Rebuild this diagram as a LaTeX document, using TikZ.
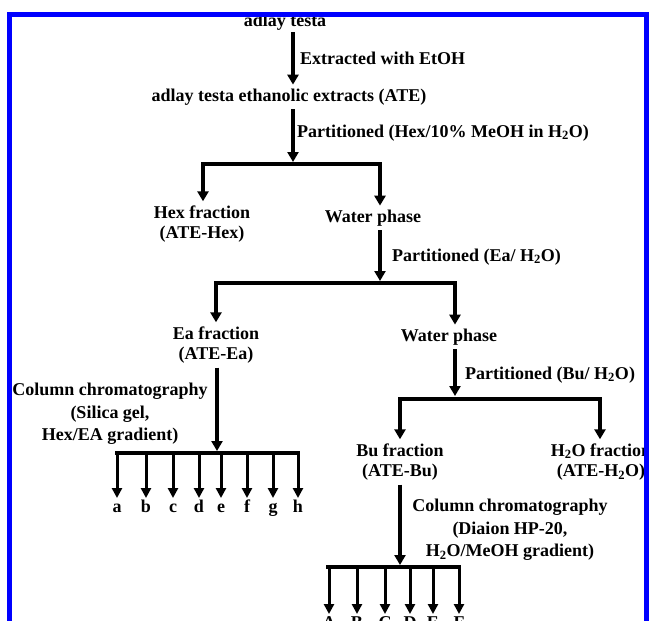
\documentclass[tikz,border=0pt]{standalone}
\usepackage{fontspec}
\setmainfont{Liberation Serif}
\usetikzlibrary{arrows.meta}
\begin{document}
\begin{tikzpicture}[x=1pt,y=-1pt,
  txt/.style={font=\fontsize{18}{20.5}\selectfont\bfseries, inner xsep=1pt, inner ysep=4pt, align=center},
  lbl/.style={txt, anchor=west},
  col/.style={txt, font=\fontsize{18}{22.5}\selectfont\bfseries},
  letter/.style={txt, text height=12.5pt, text depth=4pt, inner ysep=2pt, anchor=north},
  arr/.style={line width=3.5pt, -{Triangle[width=11pt,length=10pt]}},
  farr/.style={line width=3pt, -{Triangle[width=10pt,length=10pt]}},
  bar/.style={line width=4pt, line cap=rect},
  frame/.style={draw=blue, line width=5pt}
]
\useasboundingbox (0,0) rectangle (649,621);
\clip (0,0) rectangle (649,621);

% main chain
\node[txt] (top) at (285,22) {adlay testa};
\node[txt] (ate) at (289,97) {adlay testa ethanolic extracts (ATE)};
\node[lbl] (l1) at (299,58) {Extracted with EtOH};
\coordinate (j0) at (293,32);
\draw[arr] (j0) -- (j0 |- ate.north);

\coordinate (j1) at (293,162);
\node[lbl] (l2) at (296,133) {Partitioned (Hex/10\% MeOH in H\textsubscript{2}O)};
\draw[arr] (ate.south -| j1) -- (j1);

\coordinate (b1l) at (203,164);
\coordinate (b1r) at (380,164);
\node[txt] (hex) at (202,224) {Hex fraction\\(ATE-Hex)};
\node[txt] (wp1) at (373,218) {Water phase};
\draw[bar] (b1l) -- (b1r);
\draw[arr] (b1l) -- (b1l |- hex.north);
\draw[arr] (b1r) -- (b1r |- wp1.north);

\coordinate (j2) at (380,281);
\node[lbl] (l3) at (391,257) {Partitioned (Ea/ H\textsubscript{2}O)};
\draw[arr] (wp1.south -| j2) -- (j2);

\coordinate (b2l) at (216,283);
\coordinate (b2r) at (455,283);
\node[txt] (ea) at (216,345) {Ea fraction\\(ATE-Ea)};
\node[txt] (wp2) at (449,337) {Water phase};
\draw[bar] (b2l) -- (b2r);
\draw[arr] (b2l) -- (b2l |- ea.north);
\draw[arr] (b2r) -- (b2r |- wp2.north);

\coordinate (j3) at (455,396);
\node[lbl] (l4) at (464,375) {Partitioned (Bu/ H\textsubscript{2}O)};
\draw[arr] (wp2.south -| j3) -- (j3);

\coordinate (b3l) at (400,399);
\coordinate (b3r) at (600,399);
\node[txt] (bu) at (400,462) {Bu fraction\\(ATE-Bu)};
\node[txt] (hwo) at (601,462) {H\textsubscript{2}O fraction\\(ATE-H\textsubscript{2}O)};
\draw[bar] (b3l) -- (b3r);
\draw[arr] (b3l) -- (b3l |- bu.north);
\draw[arr] (b3r) -- (b3r |- hwo.north);

% Ea column
\coordinate (j4) at (217,451);
\node[col] (c1) at (110,414) {Column chromatography\\(Silica gel,\\Hex/EA gradient)};
\draw[arr] (ea.south -| j4) -- (j4);
\coordinate (b4l) at (117,453);
\coordinate (b4r) at (298,453);
\draw[bar] (b4l) -- (b4r);
\foreach \x/\t in {117/a,146/b,173/c,199/d,221/e,247/f,273/g,298/h}{
  \node[letter] (f\t) at (\x,498) {\t};
  \draw[farr] (\x,453) -- (f\t.north);
}

% Bu column
\coordinate (j5) at (400,565);
\node[col] (c2) at (510,530) {Column chromatography\\(Diaion HP-20,\\H\textsubscript{2}O/MeOH gradient)};
\draw[arr] (bu.south -| j5) -- (j5);
\coordinate (b5l) at (328,567);
\coordinate (b5r) at (459,567);
\draw[bar] (b5l) -- (b5r);
\foreach \x/\t in {329/A,357/B,385/C,410/D,433/E,459/F}{
  \node[letter] (g\t) at (\x,614) {\t};
  \draw[farr] (\x,567) -- (g\t.north);
}

% frame
\draw[frame] (9.5,14.5) rectangle (646.5,700);
\end{tikzpicture}
\end{document}
